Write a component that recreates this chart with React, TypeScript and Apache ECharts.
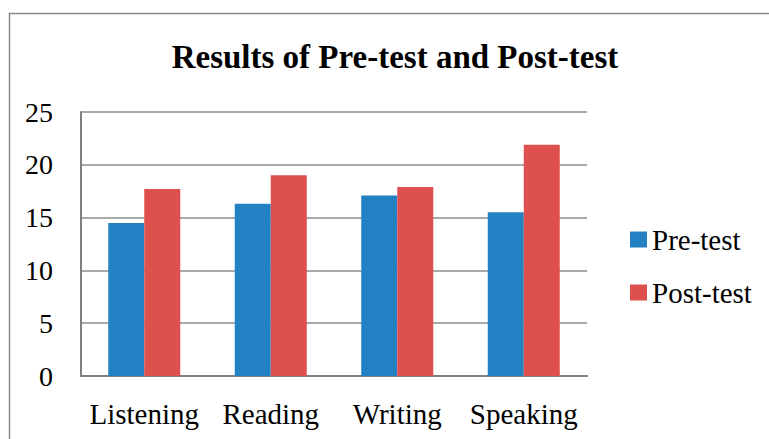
import React, { useEffect, useRef } from "react";
import * as echarts from "echarts";

const categories = ["Listening", "Reading", "Writing", "Speaking"];
const preTest = [14.5, 16.3, 17.1, 15.5];
const postTest = [17.7, 19.0, 17.9, 21.9];
const seriesNames = ["Pre-test", "Post-test"];
const titleText = "Results of Pre-test and Post-test";

const FONT = "'Liberation Serif', 'Times New Roman', serif";

export default function App() {
  const ref = useRef<HTMLDivElement>(null);
  useEffect(() => {
    if (!ref.current) return;
    const chart = echarts.init(ref.current, undefined, { renderer: "svg" });
    chart.setOption({
      animation: false,
      backgroundColor: "#ffffff",
      textStyle: { fontFamily: FONT },
      graphic: [
        {
          type: "rect",
          shape: { x: 9.5, y: 13.5, width: 820, height: 500 },
          style: { fill: "none", stroke: "#8a8a8a", lineWidth: 1.5 },
          silent: true,
        },
        {
          type: "text",
          x: 395,
          y: 57,
          style: {
            text: titleText,
            fontFamily: FONT,
            fontSize: 33,
            fontWeight: "bold",
            fill: "#000000",
            textAlign: "center",
            textVerticalAlign: "middle",
          },
        },
      ],
      legend: {
        orient: "vertical",
        left: 630,
        top: 225,
        padding: 0,
        itemWidth: 17,
        itemHeight: 16,
        itemGap: 24,
        icon: "rect",
        data: seriesNames,
        textStyle: { fontFamily: FONT, fontSize: 29, color: "#000", lineHeight: 28 },
      },
      grid: { left: 81, right: 182, top: 112, bottom: 63, containLabel: false },
      xAxis: {
        type: "category",
        data: categories,
        axisTick: { show: false },
        axisLine: { show: true, lineStyle: { color: "#808080", width: 2 } },
        axisLabel: { fontFamily: FONT, fontSize: 29, color: "#000", margin: 23, interval: 0 },
      },
      yAxis: {
        type: "value",
        min: 0,
        max: 25,
        interval: 5,
        axisLine: { show: true, lineStyle: { color: "#808080", width: 2 } },
        axisTick: { show: false },
        splitLine: { show: true, lineStyle: { color: "#8c8c8c", width: 1.5 } },
        axisLabel: { fontFamily: FONT, fontSize: 28, color: "#000", margin: 28 },
      },
      series: [
        {
          name: seriesNames[0],
          type: "bar",
          data: preTest,
          barWidth: 36,
          barGap: "0%",
          itemStyle: { color: "#2381c3" },
        },
        {
          name: seriesNames[1],
          type: "bar",
          data: postTest,
          barWidth: 36,
          barGap: "0%",
          itemStyle: { color: "#dd504d" },
        },
      ],
    });
    return () => chart.dispose();
  }, []);
  return (
    <div
      ref={ref}
      style={{ position: "absolute", left: 0, top: 0, width: 769, height: 439 }}
    />
  );
}
